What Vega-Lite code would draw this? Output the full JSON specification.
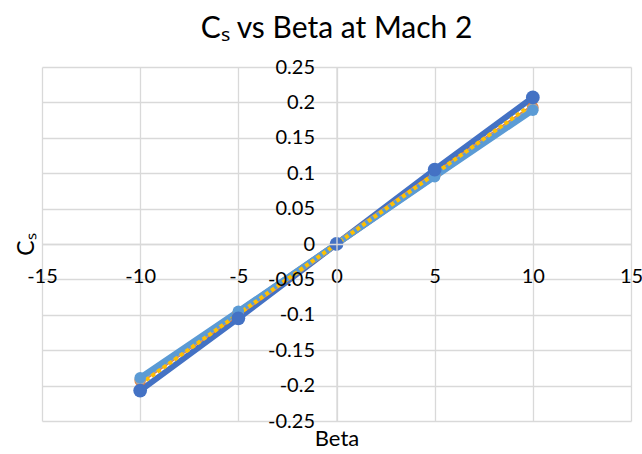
{
  "$schema": "https://vega.github.io/schema/vega-lite/v6.json",
  "width": 589,
  "height": 354,
  "autosize": "none",
  "padding": {"left": 42, "top": 67, "right": 11, "bottom": 33},
  "background": "white",
  "config": {
    "font": "Lato",
    "view": {"stroke": null},
    "axis": {"labelFont": "Lato", "titleFont": "Lato", "labelColor": "#000000", "titleColor": "#000000", "gridColor": "#D9D9D9", "domainColor": "#D9D9D9", "gridWidth": 1.3, "domainWidth": 1.3}
  },
  "title": {"text": "Cₛ vs Beta at Mach 2", "fontSize": 30, "fontWeight": "normal", "font": "Lato", "color": "#000000", "anchor": "middle", "baseline": "alphabetic", "offset": -11},
  "data": {"values": [
    {"series": "S1", "beta": -10, "cs": -0.207},
    {"series": "S1", "beta": -5, "cs": -0.105},
    {"series": "S1", "beta": 0, "cs": 0},
    {"series": "S1", "beta": 5, "cs": 0.105},
    {"series": "S1", "beta": 10, "cs": 0.207},
    {"series": "S2", "beta": -10, "cs": -0.193},
    {"series": "S2", "beta": -5, "cs": -0.097},
    {"series": "S2", "beta": 0, "cs": 0},
    {"series": "S2", "beta": 5, "cs": 0.097},
    {"series": "S2", "beta": 10, "cs": 0.193},
    {"series": "S3", "beta": -10, "cs": -0.191},
    {"series": "S3", "beta": -5, "cs": -0.096},
    {"series": "S3", "beta": 0, "cs": 0},
    {"series": "S3", "beta": 5, "cs": 0.096},
    {"series": "S3", "beta": 10, "cs": 0.191},
    {"series": "S5", "beta": -10, "cs": -0.189},
    {"series": "S5", "beta": -5, "cs": -0.095},
    {"series": "S5", "beta": 0, "cs": 0},
    {"series": "S5", "beta": 5, "cs": 0.095},
    {"series": "S5", "beta": 10, "cs": 0.189},
    {"series": "S4", "beta": -10, "cs": -0.198},
    {"series": "S4", "beta": -5, "cs": -0.099},
    {"series": "S4", "beta": 0, "cs": 0},
    {"series": "S4", "beta": 5, "cs": 0.099},
    {"series": "S4", "beta": 10, "cs": 0.198}
  ]},
  "resolve": {"axis": {"x": "independent", "y": "independent"}},
  "layer": [
    {
      "transform": [{"filter": "datum.series != 'S4'"}],
      "mark": {"type": "line", "strokeWidth": 6},
      "encoding": {
        "x": {"field": "beta", "type": "quantitative", "scale": {"domain": [-15, 15], "nice": false, "zero": false},
              "axis": {"orient": "bottom", "values": [-15, -10, -5, 0, 5, 10, 15], "grid": true, "labels": false, "ticks": false, "domain": false, "title": null, "zindex": 0}},
        "y": {"field": "cs", "type": "quantitative", "scale": {"domain": [-0.25, 0.25], "nice": false, "zero": false},
              "axis": {"orient": "left", "values": [-0.25, -0.2, -0.15, -0.1, -0.05, 0, 0.05, 0.1, 0.15, 0.2, 0.25], "grid": true, "labels": false, "ticks": false, "domain": false, "title": null, "zindex": 0}},
        "color": {"field": "series", "type": "nominal", "legend": null,
                  "scale": {"domain": ["S1", "S2", "S3", "S4", "S5"], "range": ["#4472C4", "#ED7D31", "#A5A5A5", "#FFC000", "#5B9BD5"]}},
        "order": {"field": "series", "type": "nominal"}
      }
    },
    {
      "transform": [{"filter": "datum.series == 'S4'"}],
      "mark": {"type": "line", "strokeWidth": 4, "strokeDash": [4, 3]},
      "encoding": {
        "x": {"field": "beta", "type": "quantitative", "scale": {"domain": [-15, 15], "nice": false, "zero": false},
              "axis": {"orient": "bottom", "offset": -177, "values": [-15, -10, -5, 0, 5, 10, 15], "grid": false, "ticks": false, "domain": true, "labelFontSize": 20, "labelBaseline": "alphabetic", "labelPadding": 38, "labelFlush": false, "labelOverlap": false, "labelExpr": "'' + datum.value",
                       "title": "Beta", "titleFontSize": 22, "titleFontWeight": "normal", "titleBaseline": "top", "titleY": 184, "zindex": 1}},
        "y": {"field": "cs", "type": "quantitative", "scale": {"domain": [-0.25, 0.25], "nice": false, "zero": false},
              "axis": {"orient": "left", "offset": -294.5, "values": [-0.25, -0.2, -0.15, -0.1, -0.05, 0, 0.05, 0.1, 0.15, 0.2, 0.25], "grid": false, "ticks": false, "domain": true, "labelFontSize": 20, "labelBaseline": "middle", "labelPadding": 22, "labelFlush": false, "labelOverlap": false, "labelExpr": "'' + datum.value",
                       "title": "Cₛ", "titleFontSize": 23, "titleFontWeight": "normal", "titleAngle": -90, "titleBaseline": "middle", "titleAlign": "center", "titleX": -310, "titleY": 177, "zindex": 1}},
        "color": {"field": "series", "type": "nominal", "legend": null}
      }
    },
    {
      "transform": [{"filter": "datum.series != 'S4' && datum.series != 'S1'"}],
      "mark": {"type": "circle", "size": 130, "opacity": 1},
      "encoding": {
        "x": {"field": "beta", "type": "quantitative", "scale": {"domain": [-15, 15], "nice": false, "zero": false}, "axis": null},
        "y": {"field": "cs", "type": "quantitative", "scale": {"domain": [-0.25, 0.25], "nice": false, "zero": false}, "axis": null},
        "color": {"field": "series", "type": "nominal", "legend": null}
      }
    },
    {
      "transform": [{"filter": "datum.series == 'S1'"}],
      "mark": {"type": "circle", "size": 190, "opacity": 1},
      "encoding": {
        "x": {"field": "beta", "type": "quantitative", "scale": {"domain": [-15, 15], "nice": false, "zero": false}, "axis": null},
        "y": {"field": "cs", "type": "quantitative", "scale": {"domain": [-0.25, 0.25], "nice": false, "zero": false}, "axis": null},
        "color": {"field": "series", "type": "nominal", "legend": null}
      }
    }
  ]
}
